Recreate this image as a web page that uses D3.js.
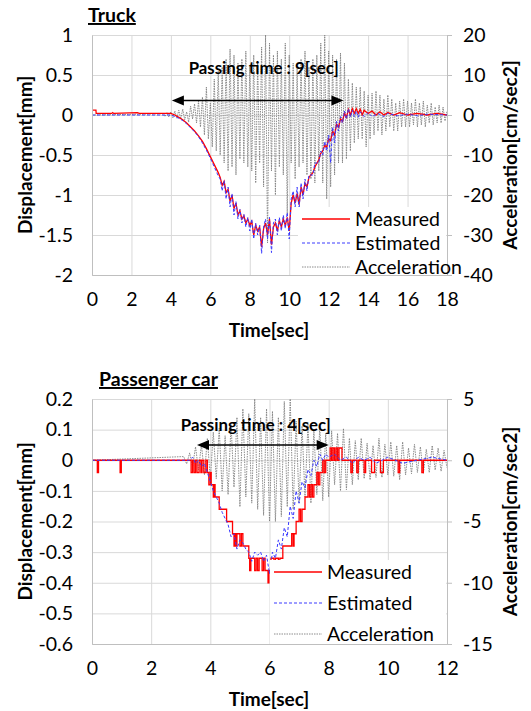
<!DOCTYPE html>
<html lang="en">
<head>
<meta charset="UTF-8">
<script src="https://d3js.org/d3.v7.min.js"></script>
<title>Displacement and acceleration</title>
<style>
  body { margin: 0; background: #fff; }
  svg { font-family: Lato, "Open Sans", sans-serif; }
  .grid line { stroke: #d9d9d9; }
</style>
</head>
<body>
<svg id="chart" width="531" height="711"></svg>
<script>
// ---- truck ----
const truckTitle = "Truck";
const truckPassing = "Passing time : 9[sec]";
const truckArrow = [4.05, 12.75, 0.18];   // from, to, displacement level
const truckXTicks = [0, 2, 4, 6, 8, 10, 12, 14, 16, 18];
const truckYTicks = [-2, -1.5, -1, -0.5, 0, 0.5, 1];
const truckY2Ticks = [-40, -30, -20, -10, 0, 10, 20];

const truckMeasured = [
  [0,0.06],[0.2,0.06],[0.21,0.02],[1.0,0.02],[1.05,0.03],[1.1,0.02],[2.3,0.03],[2.4,0.02],[4,0.02],[4.2,0],[4.4,-0.03],[4.6,-0.06],[4.8,-0.1],
  [5.0,-0.15],[5.2,-0.2],[5.4,-0.26],[5.6,-0.33],[5.8,-0.42],[6.0,-0.52],[6.2,-0.62],[6.4,-0.72],
  [6.5,-0.78],[6.6,-0.88],[6.7,-0.83],[6.8,-0.97],[6.9,-0.93],[7.0,-1.08],[7.1,-1.0],[7.2,-1.17],
  [7.3,-1.1],[7.4,-1.25],[7.5,-1.2],[7.6,-1.3],[7.7,-1.26],[7.8,-1.35],[7.9,-1.3],[8.0,-1.38],
  [8.1,-1.33],[8.2,-1.5],[8.3,-1.38],[8.4,-1.45],[8.5,-1.4],[8.6,-1.65],[8.7,-1.42],[8.8,-1.35],
  [8.9,-1.5],[9.0,-1.3],[9.1,-1.62],[9.2,-1.4],[9.3,-1.35],[9.4,-1.45],[9.5,-1.32],[9.6,-1.4],
  [9.7,-1.3],[9.8,-1.38],[9.9,-1.28],[10.0,-1.45],[10.1,-1.1],[10.2,-1.0],[10.3,-1.1],[10.4,-0.98],
  [10.5,-1.12],[10.6,-0.9],[10.7,-1.0],[10.8,-0.85],[10.9,-0.9],[11.0,-0.78],[11.2,-0.72],[11.3,-0.65],
  [11.5,-0.56],[11.6,-0.48],[11.7,-0.45],[11.8,-0.38],[11.9,-0.4],[12.0,-0.3],[12.1,-0.32],[12.2,-0.2],
  [12.3,-0.25],[12.4,-0.12],[12.5,-0.15],[12.6,-0.05],[12.7,-0.08],[12.8,0.02],[12.9,-0.03],[13.0,0.07],
  [13.1,0.0],[13.2,0.08],[13.3,0.02],[13.4,0.08],[13.5,0.02],[13.6,0.07],[13.7,0.0],[13.8,0.06],
  [14,0.02],[14.2,0.05],[14.4,0.0],[14.6,0.04],[14.8,0.0],[15,0.03],[15.3,0.0],[15.6,0.03],[16,0],
  [16.5,0.02],[17,0.0],[17.5,0.02],[18,0.0]
];
const truckEstimated = [
  [0,0],[4.0,0],[4.2,-0.02],[4.4,-0.04],[4.6,-0.07],[4.8,-0.11],[5.0,-0.16],[5.2,-0.21],[5.4,-0.27],
  [5.6,-0.35],[5.8,-0.44],[6.0,-0.54],[6.2,-0.65],[6.4,-0.76],[6.5,-0.8],[6.6,-0.95],[6.7,-0.82],
  [6.8,-1.05],[6.9,-0.9],[7.0,-1.15],[7.1,-0.98],[7.2,-1.25],[7.3,-1.08],[7.4,-1.3],[7.5,-1.18],
  [7.6,-1.35],[7.7,-1.24],[7.8,-1.4],[7.9,-1.28],[8.0,-1.45],[8.1,-1.3],[8.2,-1.55],[8.3,-1.35],
  [8.4,-1.5],[8.5,-1.38],[8.6,-1.73],[8.7,-1.4],[8.8,-1.3],[8.9,-1.55],[9.0,-1.28],[9.1,-1.72],
  [9.2,-1.35],[9.3,-1.3],[9.4,-1.5],[9.5,-1.28],[9.6,-1.45],[9.7,-1.25],[9.8,-1.42],[9.9,-1.22],
  [10.0,-1.55],[10.1,-1.05],[10.2,-0.95],[10.3,-1.15],[10.4,-0.9],[10.5,-1.18],[10.6,-0.85],
  [10.7,-1.05],[10.8,-0.8],[10.9,-0.95],[11.0,-0.75],[11.2,-0.75],[11.3,-0.6],[11.5,-0.6],[11.6,-0.45],
  [11.7,-0.5],[11.8,-0.33],[11.9,-0.45],[12.0,-0.25],[12.1,-0.6],[12.2,-0.15],[12.3,-0.35],[12.4,-0.08],
  [12.5,-0.2],[12.6,-0.02],[12.7,-0.1],[12.8,0.05],[12.9,-0.05],[13.0,0.08],[13.1,-0.03],[13.2,0.06],
  [13.3,-0.02],[13.4,0.05],[13.5,-0.03],[13.6,0.04],[13.8,-0.02],[14,0.03],[14.2,-0.02],[14.5,0.02],
  [14.8,-0.02],[15,0.02],[15.5,-0.01],[16,0.01],[16.5,-0.01],[17,0.01],[18,0]
];
// acceleration, sampled every 0.1 s from 3.6 s (flat at 0 before)
const truckAccStart = 3.6;
const truckAcc = [
  0.3,-0.4,0.6,-0.5,0.8,-0.7,1.0,-0.8,1.2,-1.0,
  1.5,-1.2,0.8,-1.8,2.2,-1.0,2.8,-2.0,3.5,-3.0,
  4.5,-5,7,-6,3,-8,9,-9,11,-10,
  12,-12,14,-14,16.5,-13,15,-15,13,-11,
  14,-12,16,-13,12,-14,15,-17,13,-12,
  17,-18,20,-32,18,-14,15,-20,16,-13,
  14,-15,18,-25,15,-12,13,-16,12,-13,
  14,-12,16,-15,12,-16,14,-17,15,-14,
  18,-17,20,-21,16,-18,15,-15,14,-12,
  15.5,-12,13,-11,9,-9,8,-7,7,-6,
  7,-6,6,-8,5,-6,5.5,-5,6,-4,
  5,-5,4,-4,5,-3,4,-4,3,-4,
  3.5,-3,4,-3,3.5,-3,3,-2.5,4,-3,
  3,-2.5,3.5,-3,2.5,-2,3,-2.5,2,-2,
  2.5,-2,2,-1.5,1
];

// ---- passenger car ----
const carTitle = "Passenger car";
const carPassing = "Passing time : 4[sec]";
const carArrow = [3.55, 8.0, 0.05];
const carXTicks = [0, 2, 4, 6, 8, 10, 12];
const carYTicks = [-0.6, -0.5, -0.4, -0.3, -0.2, -0.1, 0, 0.1, 0.2];
const carY2Ticks = [-15, -10, -5, 0, 5];

const carMeasured = [
  [0,0],[0.18,-0.04],[0.22,0],[0.95,-0.04],[0.99,0],
  [3.35,-0.04],[3.4,0],[3.45,-0.04],[3.5,0],[3.55,-0.04],[3.62,0],[3.68,-0.04],[3.72,0],[3.78,-0.04],[3.85,0],
  [3.9,-0.04],[3.95,-0.08],[4.0,-0.04],[4.03,-0.08],[4.1,-0.12],[4.13,-0.08],[4.16,-0.12],[4.3,-0.16],
  [4.55,-0.2],[4.75,-0.24],[4.8,-0.28],[4.83,-0.24],[4.87,-0.28],[4.9,-0.24],[5.0,-0.28],[5.05,-0.24],
  [5.1,-0.28],[5.3,-0.32],[5.33,-0.36],[5.37,-0.32],[5.5,-0.36],[5.55,-0.32],[5.6,-0.36],[5.65,-0.32],
  [5.75,-0.36],[5.8,-0.32],[5.85,-0.36],[5.95,-0.4],[5.98,-0.36],[6.05,-0.32],[6.15,-0.36],[6.2,-0.32],
  [6.3,-0.36],[6.35,-0.32],[6.45,-0.28],[6.75,-0.24],[6.8,-0.28],[6.83,-0.24],[6.9,-0.2],[7.0,-0.16],
  [7.05,-0.2],[7.1,-0.16],[7.2,-0.12],[7.3,-0.08],[7.35,-0.12],[7.4,-0.08],[7.45,-0.12],[7.5,-0.08],
  [7.6,-0.04],[7.65,-0.08],[7.7,-0.04],[7.8,0],[7.85,-0.04],[7.9,0],[8.05,0.04],[8.1,0],[8.15,0.04],
  [8.2,0],[8.25,0.04],[8.3,0],[8.35,0.04],[8.45,0],[8.75,-0.04],[8.8,0],[8.95,-0.04],[9.0,0],
  [9.2,-0.04],[9.25,0],[9.45,-0.04],[9.55,0],[9.75,-0.04],[9.85,0],[10.35,-0.04],[10.4,0],
  [11.15,-0.04],[11.2,0],[12,0]
];
const carEstimated = [
  [0,0],[3.3,0],[3.4,0.01],[3.5,-0.01],[3.6,0.0],[3.7,-0.02],[3.8,-0.01],[3.9,-0.04],[4.0,-0.07],
  [4.1,-0.1],[4.2,-0.12],[4.3,-0.14],[4.4,-0.17],[4.5,-0.19],[4.6,-0.21],[4.7,-0.25],[4.8,-0.24],
  [4.9,-0.29],[5.0,-0.26],[5.1,-0.27],[5.2,-0.29],[5.3,-0.3],[5.4,-0.33],[5.5,-0.3],[5.6,-0.31],
  [5.7,-0.3],[5.8,-0.33],[5.9,-0.31],[6.0,-0.37],[6.1,-0.3],[6.2,-0.32],[6.3,-0.26],[6.4,-0.29],
  [6.5,-0.22],[6.6,-0.25],[6.7,-0.15],[6.8,-0.19],[6.9,-0.1],[7.0,-0.14],[7.1,-0.07],[7.2,-0.09],
  [7.3,-0.03],[7.4,-0.05],[7.5,0.0],[7.6,-0.02],[7.7,0.02],[7.8,0.0],[7.9,0.02],[8.0,0.01],[8.2,0.02],
  [8.4,0.0],[8.6,0.01],[8.8,-0.01],[9.0,0.01],[9.2,0.0],[9.4,0.01],[9.6,-0.01],[9.8,0.0],[10.0,0.01],
  [10.5,-0.01],[11,0.0],[11.5,0.01],[12,0]
];
const carAccStart = 3.1;
const carAcc = [
  0.3,-0.3,0.6,-0.5,1.1,-0.8,1.3,-1.2,1.8,-1.6,
  2.3,-1.5,2.6,-2.5,2.0,-2.8,3.0,-2.2,3.5,-3.8,
  4.2,-3.0,3.8,-3.5,5.0,-4.0,3.5,-4.5,4.2,-5.0,
  4.0,-5.0,3.5,-4.6,4.8,-3.8,5.0,-4.0,3.2,-3.5,
  2.8,-3.0,3.0,-3.5,2.5,-2.8,2.8,-3.3,2.2,-3.0,
  2.4,-2.0,2.2,-2.5,2.6,-2.4,1.8,-2.0,1.6,-1.6,
  1.8,-1.5,1.4,-1.6,1.2,-1.4,1.8,-1.4,1.3,-1.2,
  1.5,-1.3,1.2,-1.6,1.5,-1.2,1.0,-1.1,1.3,-1.0,
  1.1,-1.1,0.9,-1.0,1.2,-0.8,1.0,-0.9,0.8,-0.6
];
const accStep = 0.1;

const legendNames = ["Measured", "Estimated", "Acceleration"];

const svg = d3.select('#chart');
const fmt = d => String(+d.toFixed(2));
const tickSize = 19.5;

function drawPanel(p) {
  const g = svg.append('g');
  const x = d3.scaleLinear().domain(d3.extent(p.xTicks)).range([92, 447]);
  const y = d3.scaleLinear().domain(d3.extent(p.yTicks)).range([p.bottom, p.top]);
  const y2 = d3.scaleLinear().domain(d3.extent(p.y2Ticks)).range([p.bottom, p.top]);

  // gridlines
  g.append('g').attr('class', 'grid')
    .attr('transform', `translate(0,${p.bottom})`)
    .call(d3.axisBottom(x).tickValues(p.xTicks).tickSize(p.top - p.bottom).tickFormat(''))
    .call(a => a.select('.domain').remove());
  g.append('g').attr('class', 'grid')
    .attr('transform', 'translate(92,0)')
    .call(d3.axisLeft(y).tickValues(p.yTicks).tickSize(-355).tickFormat(''))
    .call(a => a.select('.domain').remove());

  // series
  const clipId = 'clip' + p.top;
  g.append('clipPath').attr('id', clipId).append('rect')
    .attr('x', 92).attr('y', p.top - 1).attr('width', 356).attr('height', p.bottom - p.top + 2);
  const plot = g.append('g').attr('clip-path', `url(#${clipId})`);

  const accPts = [[0, 0]].concat(p.acc.map((v, i) => [p.accStart + i * accStep, v]));
  plot.append('path').datum(accPts)
    .attr('fill', 'none').attr('stroke', '#808080').attr('stroke-width', 0.9)
    .attr('stroke-dasharray', '1.5,1')
    .attr('d', d3.line().x(d => x(d[0])).y(d => y2(d[1])));

  plot.append('path').datum(p.measured)
    .attr('fill', 'none').attr('stroke', '#ff0000').attr('stroke-width', 1.3)
    .attr('d', d3.line().curve(p.step ? d3.curveStepAfter : d3.curveLinear)
      .x(d => x(d[0])).y(d => y(d[1])));

  plot.append('path').datum(p.estimated)
    .attr('fill', 'none').attr('stroke', '#3a3aff').attr('stroke-width', 1)
    .attr('stroke-dasharray', '3,2')
    .attr('d', d3.line().x(d => x(d[0])).y(d => y(d[1])));

  // legend box (white, over the plot)
  const lg = g.append('g');
  lg.append('rect').attr('x', p.legX - 4).attr('y', p.legY - 12)
    .attr('width', 446 - p.legX + 4).attr('height', p.legGap * 2 + 24).attr('fill', '#fff');

  // axes
  const ax = g.append('g').attr('transform', `translate(0,${p.bottom})`)
    .call(d3.axisBottom(x).tickValues(p.xTicks).tickSize(0).tickPadding(17).tickFormat(fmt));
  const ay = g.append('g').attr('transform', 'translate(92,0)')
    .call(d3.axisLeft(y).tickValues(p.yTicks).tickSize(0).tickPadding(19).tickFormat(fmt));
  const ay2 = g.append('g').attr('transform', 'translate(447,0)')
    .call(d3.axisRight(y2).tickValues(p.y2Ticks).tickSize(5).tickPadding(11).tickFormat(fmt));
  [ax, ay, ay2].forEach(a => {
    a.select('.domain').attr('stroke', '#bfbfbf');
    a.selectAll('.tick line').attr('stroke', '#bfbfbf');
    a.selectAll('text').attr('font-size', tickSize).attr('fill', '#000').attr('font-family', 'Lato');
  });

  // passing time arrow
  const ay0 = y(p.arrow[2]);
  g.append('line')
    .attr('x1', x(p.arrow[0]) + 10).attr('x2', x(p.arrow[1]) - 10)
    .attr('y1', ay0).attr('y2', ay0).attr('stroke', '#000').attr('stroke-width', 1.5);
  [[p.arrow[0], 1], [p.arrow[1], -1]].forEach(([t, s]) => {
    const px = x(t);
    g.append('path').attr('fill', '#000')
      .attr('d', `M${px},${ay0}L${px + s * 12},${ay0 - 5}L${px + s * 12},${ay0 + 5}Z`);
  });
  g.append('text').attr('x', (x(p.arrow[0]) + x(p.arrow[1])) / 2 + p.labelShift)
    .attr('y', p.labelY).attr('text-anchor', 'middle')
    .attr('font-weight', 'bold').attr('font-size', 16.8).text(p.passing);

  // legend entries
  const styles = [
    { stroke: '#ff0000', dash: null, w: 1.3 },
    { stroke: '#3a3aff', dash: '3,2', w: 1 },
    { stroke: '#808080', dash: '1.5,1', w: 0.9 }
  ];
  legendNames.forEach((n, i) => {
    const ly = p.legY + i * p.legGap;
    lg.append('line').attr('x1', p.legX).attr('x2', p.legX + 48)
      .attr('y1', ly).attr('y2', ly)
      .attr('stroke', styles[i].stroke).attr('stroke-width', styles[i].w)
      .attr('stroke-dasharray', styles[i].dash);
    g.append('text').attr('x', p.legX + 53).attr('y', ly).attr('dy', '0.35em')
      .attr('font-size', tickSize).text(n);
  });

  // titles
  g.append('text').attr('x', p.titleX).attr('y', p.top - 13)
    .attr('font-weight', 'bold').attr('font-size', 19.5)
    .attr('text-decoration', 'underline').text(p.title);
  g.append('text').attr('x', 269).attr('y', p.bottom + 62).attr('text-anchor', 'middle')
    .attr('font-weight', 'bold').attr('font-size', 19).text('Time[sec]');
  const cy = (p.top + p.bottom) / 2;
  g.append('text').attr('transform', `translate(32,${cy}) rotate(-90)`)
    .attr('text-anchor', 'middle').attr('font-weight', 'bold').attr('font-size', 19)
    .text('Displacement[mm]');
  g.append('text').attr('transform', `translate(517,${cy}) rotate(-90)`)
    .attr('text-anchor', 'middle').attr('font-weight', 'bold').attr('font-size', 19)
    .text('Acceleration[cm/sec2]');
}

drawPanel({
  top: 35, bottom: 275, xTicks: truckXTicks, yTicks: truckYTicks, y2Ticks: truckY2Ticks,
  measured: truckMeasured, estimated: truckEstimated, acc: truckAcc, accStart: truckAccStart,
  step: false, arrow: truckArrow, passing: truckPassing, labelY: 74, labelShift: 6,
  legX: 302, legY: 219, legGap: 24, title: truckTitle, titleX: 88
});
drawPanel({
  top: 399, bottom: 644, xTicks: carXTicks, yTicks: carYTicks, y2Ticks: carY2Ticks,
  measured: carMeasured, estimated: carEstimated, acc: carAcc, accStart: carAccStart,
  step: true, arrow: carArrow, passing: carPassing, labelY: 431, labelShift: -7,
  legX: 274, legY: 572, legGap: 31, title: carTitle, titleX: 99
});
</script>
</body>
</html>
